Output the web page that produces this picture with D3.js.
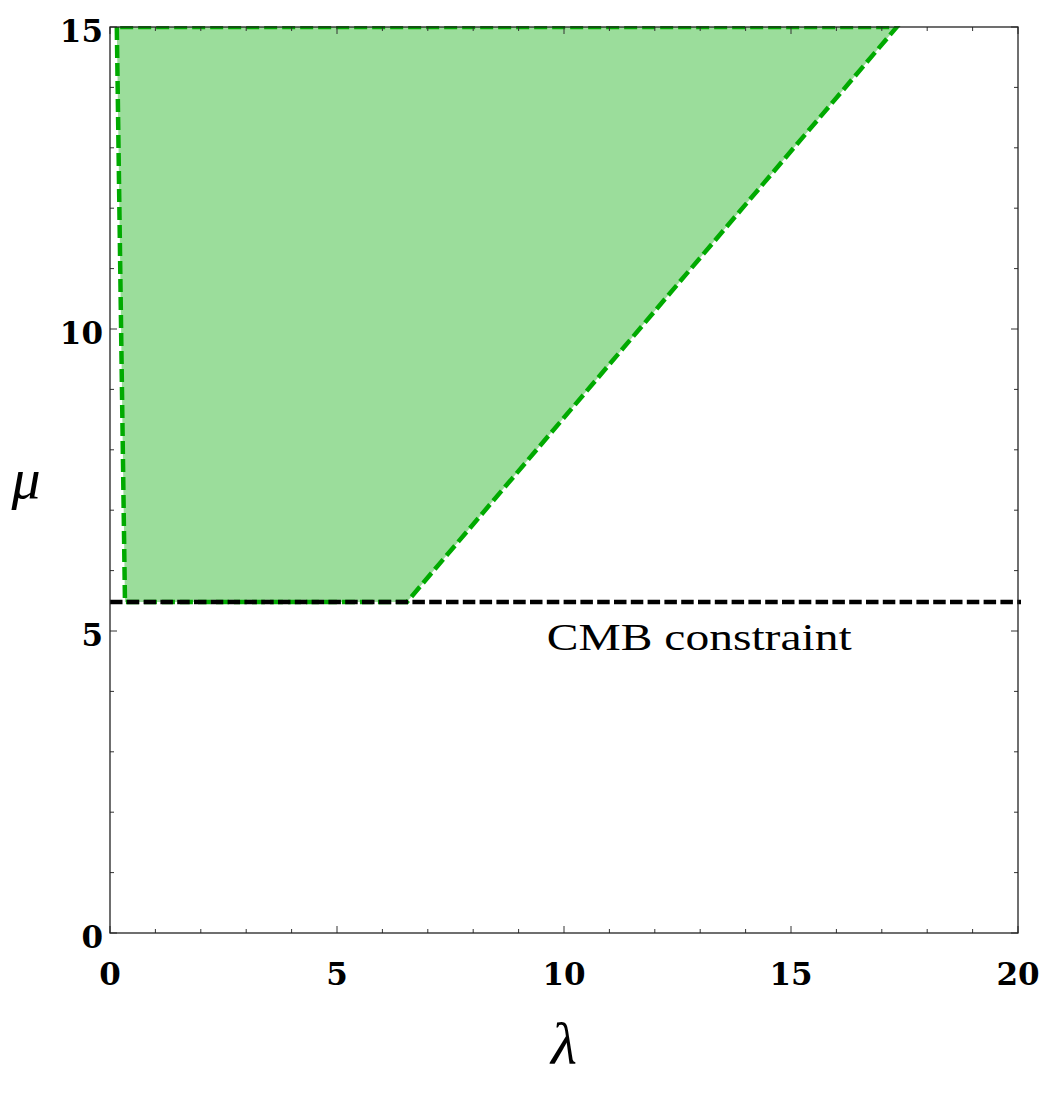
<!DOCTYPE html>
<html>
<head>
<meta charset="utf-8">
<script src="https://cdn.jsdelivr.net/npm/d3@7/dist/d3.min.js"></script>
<style>
    body { margin: 0; background: #ffffff; }
</style>
</head>
<body>
<script>
    // allowed region (corners, clockwise from top-left)
    var regionLambda = [0.15, 0.33, 6.54, 17.33];
    var regionMu = [15, 5.48, 5.48, 15];
    // CMB bound on mu
    var cmbMu = 5.48;
    var cmbLabel = "CMB constraint";

    var xTicks = [0, 5, 10, 15, 20];
    var yTicks = [0, 5, 10, 15];
    var xMinor = d3.range(0, 21, 1);
    var yMinor = d3.range(0, 16, 1);

    var width = 1042, height = 1096;
    var margin = {"top": 27, "bottom": 163, "left": 110, "right": 24};

    var svg = d3.select("body")
        .append("svg")
        .attr("width", width)
        .attr("height", height);

    var x = d3.scaleLinear()
        .domain([0, 20])
        .range([margin.left, width - margin.right]);

    var y = d3.scaleLinear()
        .domain([0, 15])
        .range([height - margin.bottom, margin.top]);

    svg.append("clipPath")
        .attr("id", "plotclip")
        .append("rect")
        .attr("x", x(0))
        .attr("y", y(15) - 1)
        .attr("width", x(20) - x(0) + 3)
        .attr("height", y(0) - y(15) + 1);

    var plot = svg.append("g").attr("clip-path", "url(#plotclip)");

    //region
    var pts = regionLambda.map(function(l, i) { return [x(l), y(regionMu[i])]; });
    var line = d3.line().curve(d3.curveLinearClosed);

    plot.append("path")
        .attr("d", line(pts))
        .attr("fill", "#9bdd9b")
        .attr("stroke", "none");

    plot.append("path")
        .attr("d", line(pts))
        .attr("fill", "none")
        .attr("stroke", "#00aa00")
        .attr("stroke-width", 4.5)
        .attr("stroke-dasharray", "13,5");

    //CMB line
    plot.append("line")
        .attr("x1", x(0))
        .attr("x2", x(20) + 3)
        .attr("y1", y(cmbMu))
        .attr("y2", y(cmbMu))
        .attr("stroke", "#000")
        .attr("stroke-width", 4.5)
        .attr("stroke-dasharray", "12.5,4.3");

    svg.append("text")
        .attr("x", x(9.62))
        .attr("y", y(cmbMu) + 48)
        .attr("textLength", 305)
        .attr("lengthAdjust", "spacingAndGlyphs")
        .style("font-family", "Liberation Serif")
        .style("font-size", "37px")
        .text(cmbLabel);

    //ticks, inward on all sides
    var ticks = svg.append("g")
        .attr("stroke", "#333")
        .attr("stroke-width", 1);

    xMinor.forEach(function(v) {
        var len = v % 5 == 0 ? 7 : 4;
        ticks.append("line").attr("x1", x(v)).attr("x2", x(v))
            .attr("y1", y(0)).attr("y2", y(0) - len);
        ticks.append("line").attr("x1", x(v)).attr("x2", x(v))
            .attr("y1", y(15)).attr("y2", y(15) + len);
    });
    yMinor.forEach(function(v) {
        var len = v % 5 == 0 ? 7 : 4;
        ticks.append("line").attr("y1", y(v)).attr("y2", y(v))
            .attr("x1", x(0)).attr("x2", x(0) + len);
        ticks.append("line").attr("y1", y(v)).attr("y2", y(v))
            .attr("x1", x(20)).attr("x2", x(20) - len);
    });

    //frame
    svg.append("rect")
        .attr("x", x(0))
        .attr("y", y(15))
        .attr("width", x(20) - x(0))
        .attr("height", y(0) - y(15))
        .attr("fill", "none")
        .attr("stroke", "#222")
        .attr("stroke-width", 1.3);

    //tick labels
    svg.append("g")
        .selectAll("text")
        .data(xTicks)
        .enter()
        .append("text")
        .attr("x", d => x(d))
        .attr("y", y(0) + 52)
        .attr("text-anchor", "middle")
        .style("font-family", "DejaVu Serif")
        .style("font-weight", "bold")
        .style("font-size", "31px")
        .text(d => d);

    svg.append("g")
        .selectAll("text")
        .data(yTicks)
        .enter()
        .append("text")
        .attr("x", x(0) - 7)
        .attr("y", d => y(d) + 15)
        .attr("text-anchor", "end")
        .style("font-family", "DejaVu Serif")
        .style("font-weight", "bold")
        .style("font-size", "31px")
        .text(d => d);

    //axis labels
    svg.append("text")
        .attr("x", (x(0) + x(20)) / 2)
        .attr("y", 1064)
        .attr("text-anchor", "middle")
        .style("font-family", "Liberation Serif")
        .style("font-style", "italic")
        .style("font-size", "60px")
        .text("λ");

    svg.append("text")
        .attr("x", 26)
        .attr("y", 498)
        .attr("text-anchor", "middle")
        .style("font-family", "Liberation Serif")
        .style("font-style", "italic")
        .style("font-size", "58px")
        .text("μ");
</script>
</body>
</html>
